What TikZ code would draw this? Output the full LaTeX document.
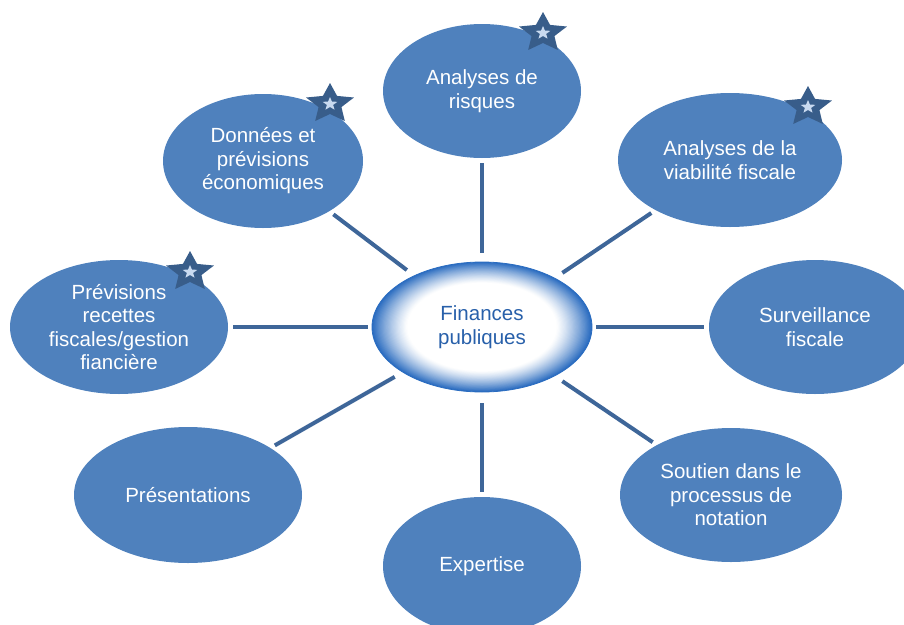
\documentclass[tikz,border=0pt]{standalone}
\usepackage{fontspec}
\setmainfont{Liberation Sans}
\usetikzlibrary{shapes.geometric}
\definecolor{ellblue}{HTML}{4F81BD}
\definecolor{linec}{HTML}{3E6699}
\definecolor{starc}{HTML}{385D8A}
\definecolor{starin}{HTML}{C9DAF0}
\definecolor{cblue}{HTML}{2A6CC0}
\definecolor{ctext}{HTML}{2860AA}
\begin{document}
\begin{tikzpicture}[x=1pt,y=-1pt,
  satnode/.style={ellipse, fill=ellblue, inner sep=0pt, text=white, align=center,
    font=\fontsize{20.5}{23.5}\selectfont},
  hubnode/.style={ellipse, draw=cblue, line width=0.8pt, inner sep=0pt,
    text=ctext, align=center, font=\fontsize{20.5}{23.5}\selectfont,
    minimum width=220pt, minimum height=130pt},
  conn/.style={draw=linec, line width=4pt, shorten <=9pt, shorten >=5pt},
  bstar/.pic={
    \fill[starc, xscale=1.2] (90:21pt) -- (126:10pt) -- (162:21pt) -- (198:10pt) -- (234:21pt) -- (270:10pt) -- (306:21pt) -- (342:10pt) -- (18:21pt) -- (54:10pt) -- cycle;
    \fill[starin, xscale=1.1] (90:7pt) -- (126:3pt) -- (162:7pt) -- (198:3pt) -- (234:7pt) -- (270:3pt) -- (306:7pt) -- (342:3pt) -- (18:7pt) -- (54:3pt) -- cycle;
  }]
\useasboundingbox (0,0) rectangle (904,624);
% gradient of the central ellipse
\foreach \i in {0,...,30}{
  \pgfmathsetmacro{\sc}{1-0.32*\i/30}
  \pgfmathsetmacro{\pc}{100*(1-\i/30)^1.25}
  \fill[cblue!\pc!white] (482,327) ellipse [x radius=110*\sc, y radius=65*\sc];
}
\begin{scope}
\clip (0,0) rectangle (904,624);
\node[hubnode] (c) at (482,327) {Finances\\publiques};
\node[satnode, minimum width=198pt, minimum height=134pt] (risk) at (482,91) {Analyses de\\risques};
\node[satnode, minimum width=200pt, minimum height=134pt] (don) at (263,161) {Données et\\prévisions\\économiques};
\node[satnode, minimum width=224pt, minimum height=134pt] (via) at (730,160) {Analyses de la\\viabilité fiscale};
\node[satnode, minimum width=218pt, minimum height=134pt] (prev) at (119,327) {Prévisions\\recettes\\fiscales/gestion\\fiancière};
\node[satnode, minimum width=212pt, minimum height=134pt] (surv) at (815,327) {Surveillance\\fiscale};
\node[satnode, minimum width=228pt, minimum height=136pt] (pres) at (188,495) {Présentations};
\node[satnode, minimum width=198pt, minimum height=138pt] (exp) at (482,566) {Expertise};
\node[satnode, minimum width=222pt, minimum height=134pt] (sout) at (731,495) {Soutien dans le\\processus de\\notation};
\end{scope}
\draw[conn] (c) -- (risk);
\draw[conn] (c) -- (don);
\draw[conn] (c) -- (via);
\draw[conn, shorten <=4pt] (c) -- (prev);
\draw[conn, shorten <=4pt] (c) -- (surv);
\draw[conn] (c) -- (pres);
\draw[conn, shorten <=11pt] (c) -- (exp);
\draw[conn] (c) -- (sout);
\pic at (543,33) {bstar};
\pic at (330,104) {bstar};
\pic at (190,272) {bstar};
\pic at (808,107) {bstar};
\end{tikzpicture}
\end{document}
